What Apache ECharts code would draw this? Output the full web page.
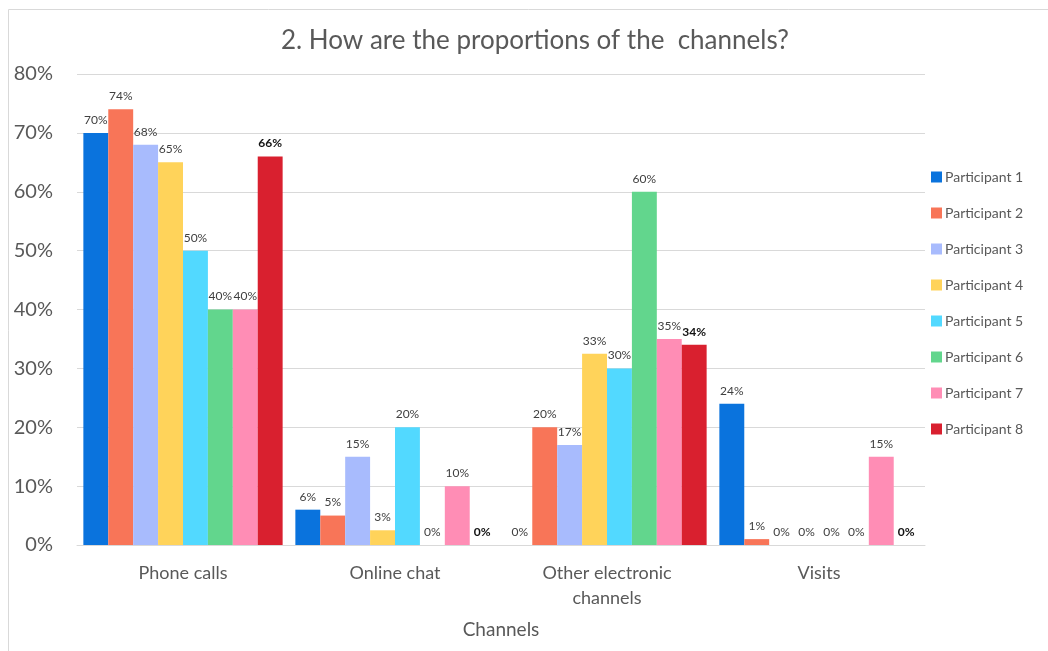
<!DOCTYPE html>
<html>
<head>
<meta charset="utf-8">
<script src="https://cdn.jsdelivr.net/npm/echarts@6/dist/echarts.min.js"></script>
<style>
  html, body { margin: 0; padding: 0; background: #fff; }
  #chart { width: 1048px; height: 651px; }
</style>
</head>
<body>
<div id="chart"></div>
<script>
// Contact channels and each participant's share (in percent)
const channels = ['Phone calls', 'Online chat', 'Other electronic\nchannels', 'Visits'];
const participants = ['Participant 1', 'Participant 2', 'Participant 3', 'Participant 4',
                      'Participant 5', 'Participant 6', 'Participant 7', 'Participant 8'];
const participant1 = [70, 6, 0, 24];
const participant2 = [74, 5, 20, 1];
const participant3 = [68, 15, 17, 0];
const participant4 = [65, 2.5, 32.5, 0];
const participant5 = [50, 20, 30, 0];
const participant6 = [40, 0, 60, 0];
const participant7 = [40, 10, 35, 15];
const participant8 = [66, 0, 34, 0];
const yTicks = [0, 10, 20, 30, 40, 50, 60, 70, 80];

const seriesValues = [participant1, participant2, participant3, participant4,
                      participant5, participant6, participant7, participant8];
const colors = ['#0A73DD', '#F87558', '#A8BBFD', '#FFD35A', '#52D9FF', '#62D68D', '#FF8DB5', '#D9202F'];

const FONT = 'Lato, "Open Sans", sans-serif';

const chart = echarts.init(document.getElementById('chart'), null, { renderer: 'canvas' });

chart.setOption({
  animation: false,
  color: colors,
  title: {
    text: '2. How are the proportions of the  channels?',
    left: 530, top: 23, textAlign: 'center',
    textStyle: { fontFamily: FONT, fontSize: 26, fontWeight: 'normal', color: '#595959' }
  },
  graphic: [{
    type: 'rect', silent: true, z: -1,
    shape: { x: 8.5, y: 9.5, width: 1100, height: 700 },
    style: { fill: 'none', stroke: '#d9d9d9', lineWidth: 1 }
  }],
  legend: {
    orient: 'vertical', left: 931, top: 170, padding: 0,
    itemWidth: 11, itemHeight: 11, itemGap: 22,
    icon: 'rect',
    textStyle: { fontFamily: FONT, fontSize: 14, color: '#595959', padding: [0, 0, 0, -2] },
    data: participants
  },
  grid: { left: 77, right: 123, top: 74, bottom: 106, containLabel: false },
  xAxis: {
    type: 'category', data: channels,
    name: 'Channels', nameLocation: 'middle', nameGap: 75,
    nameTextStyle: { fontFamily: FONT, fontSize: 19, color: '#595959' },
    axisLine: { lineStyle: { color: '#d9d9d9' } },
    axisTick: { show: false },
    axisLabel: { fontFamily: FONT, fontSize: 18, color: '#595959', margin: 16, lineHeight: 25 }
  },
  yAxis: {
    type: 'value', min: yTicks[0], max: yTicks[yTicks.length - 1], interval: 10,
    axisLabel: { fontFamily: FONT, fontSize: 20, color: '#595959', margin: 24,
                 formatter: v => v + '%' },
    splitLine: { lineStyle: { color: '#d9d9d9' } },
    axisLine: { show: false }, axisTick: { show: false }
  },
  series: participants.map((name, i) => ({
    name, type: 'bar', data: seriesValues[i],
    barGap: '0%', barCategoryGap: '6%',
    label: {
      show: true, position: 'top', distance: 7,
      fontFamily: FONT, fontSize: 12,
      color: i === 7 ? '#111' : '#404040',
      fontWeight: i === 7 ? 'bold' : 'normal',
      formatter: p => Math.round(p.value) + '%'
    }
  }))
});
</script>
</body>
</html>
